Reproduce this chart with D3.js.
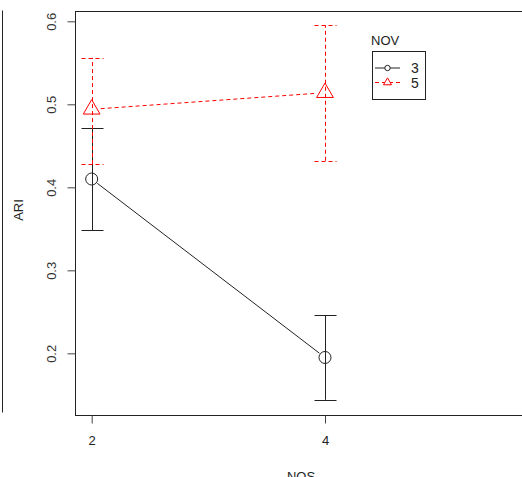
<!DOCTYPE html>
<html>
<head>
<meta charset="utf-8">
<script src="https://cdnjs.cloudflare.com/ajax/libs/d3/7.8.5/d3.min.js"></script>
<style>
  body { margin: 0; background: #fff; }
  text { font-family: "Liberation Sans", Arial, sans-serif; fill: #222; }
</style>
</head>
<body>
<div id="chart"></div>
<script>
// data
var nos = [2, 4];
var xTicks = [2, 4];
var yTicks = [0.2, 0.3, 0.4, 0.5, 0.6];

var nov3Mean = [0.410, 0.195];
var nov3Low = [0.348, 0.144];
var nov3High = [0.472, 0.246];

var nov5Mean = [0.494, 0.514];
var nov5Low = [0.428, 0.432];
var nov5High = [0.556, 0.595];

var legendLabels = ["3", "5"];

var w = 522, h = 477;
var plotL = 75, plotT = 10.7, plotB = 415, plotR = 535;

var svg = d3.select("#chart").append("svg")
    .attr("width", w)
    .attr("height", h);

var x = d3.scaleLinear().domain([1.857, 5.8]).range([plotL, plotR]);
var y = d3.scaleLinear().domain([0.1257, 0.6128]).range([plotB, plotT]);

// edge of the neighbouring panel on the left
svg.append("path")
    .attr("d", "M2.5,10.5V412.5")
    .attr("stroke", "#222")
    .attr("fill", "none");

// plot box
svg.append("rect")
    .attr("x", plotL + 0.5).attr("y", Math.round(plotT) + 0.5)
    .attr("width", plotR - plotL).attr("height", plotB - Math.round(plotT))
    .attr("fill", "none").attr("stroke", "#222");

// axes
var yAxis = svg.append("g").attr("transform", "translate(" + (plotL + 0.5) + ",0)")
    .call(d3.axisLeft(y).tickValues(yTicks).tickSize(8).tickPadding(12).tickFormat(d3.format(".1f")));
yAxis.select(".domain").remove();
yAxis.selectAll(".tick line").attr("stroke", "#444");
yAxis.selectAll(".tick text")
    .attr("transform", "rotate(-90)")
    .attr("x", 0).attr("y", -24)
    .attr("dy", "0.35em")
    .attr("text-anchor", "middle")
    .style("font-size", "13px")
    .style("fill", "#333");

var xAxis = svg.append("g").attr("transform", "translate(0," + (plotB + 0.5) + ")")
    .call(d3.axisBottom(x).tickValues(xTicks).tickSize(8).tickPadding(12).tickFormat(d3.format("d")));
xAxis.select(".domain").remove();
xAxis.selectAll(".tick line").attr("stroke", "#444");
xAxis.selectAll(".tick text").style("font-size", "13px").style("fill", "#222");

// axis titles
svg.append("text")
    .attr("transform", "translate(23,210) rotate(-90)")
    .attr("text-anchor", "middle")
    .style("font-size", "13px")
    .text("ARI");
svg.append("text")
    .attr("x", 301).attr("y", 481)
    .attr("text-anchor", "middle")
    .style("font-size", "13px")
    .text("NOS");

// helpers
function connect(means, color, dash, gap) {
    for (var i = 0; i < means.length - 1; i++) {
        var x0 = x(nos[i]), y0 = y(means[i]);
        var x1 = x(nos[i + 1]), y1 = y(means[i + 1]);
        var len = Math.hypot(x1 - x0, y1 - y0);
        var ux = (x1 - x0) / len, uy = (y1 - y0) / len;
        svg.append("line")
            .attr("x1", x0 + ux * gap).attr("y1", y0 + uy * gap)
            .attr("x2", x1 - ux * gap).attr("y2", y1 - uy * gap)
            .attr("stroke", color).attr("stroke-dasharray", dash);
    }
}

function errorBars(lows, highs, color, dash) {
    var g = svg.append("g").attr("stroke", color).attr("fill", "none").attr("stroke-dasharray", dash);
    nos.forEach(function (d, i) {
        var cx = Math.round(x(d)) + 0.5;
        g.append("line").attr("x1", cx).attr("x2", cx)
            .attr("y1", y(lows[i])).attr("y2", y(highs[i]));
        [lows[i], highs[i]].forEach(function (v) {
            var cy = Math.round(y(v)) + 0.5;
            g.append("line").attr("x1", cx - 11).attr("x2", cx + 11)
                .attr("y1", cy).attr("y2", cy);
        });
    });
}

var triangle = function (cx, cy, s) {
    return "M" + cx + "," + (cy - s * 0.77) +
        "L" + (cx + s * 0.67) + "," + (cy + s * 0.38) +
        "L" + (cx - s * 0.67) + "," + (cy + s * 0.38) + "Z";
};

// NOV = 3
connect(nov3Mean, "#222", null, 7);
errorBars(nov3Low, nov3High, "#222", null);
svg.selectAll(".pt3").data(nov3Mean).enter().append("circle")
    .attr("cx", function (d, i) { return x(nos[i]); })
    .attr("cy", function (d) { return y(d); })
    .attr("r", 6)
    .attr("fill", "none").attr("stroke", "#222");

// NOV = 5
connect(nov5Mean, "#ff0000", "4,3", 9);
errorBars(nov5Low, nov5High, "#ff0000", "4,3");
svg.selectAll(".pt5").data(nov5Mean).enter().append("path")
    .attr("d", function (d, i) { return triangle(x(nos[i]), y(d), 12.5); })
    .attr("fill", "none").attr("stroke", "#ff0000");

// legend
var lg = svg.append("g");
lg.append("text").attr("x", 371).attr("y", 45).style("font-size", "13px").text("NOV");
lg.append("rect").attr("x", 372.5).attr("y", 51.5).attr("width", 53).attr("height", 48)
    .attr("fill", "#fff").attr("stroke", "#222");
var rows = [
    { color: "#222", dash: null },
    { color: "#ff0000", dash: "4,3" }
];
rows.forEach(function (r, i) {
    var ly = 68 + i * 14.5;
    lg.append("line").attr("x1", 375).attr("x2", 400).attr("y1", ly).attr("y2", ly)
        .attr("stroke", r.color).attr("stroke-dasharray", r.dash);
    if (i === 0) {
        lg.append("circle").attr("cx", 387.5).attr("cy", ly).attr("r", 2.7)
            .attr("fill", "#fff").attr("stroke", r.color);
    } else {
        lg.append("path").attr("d", triangle(387.5, ly, 6))
            .attr("fill", "#fff").attr("stroke", r.color);
    }
    lg.append("text").attr("x", 411).attr("y", ly).attr("dy", "0.36em")
        .style("font-size", "14px").text(legendLabels[i]);
});
</script>
</body>
</html>
